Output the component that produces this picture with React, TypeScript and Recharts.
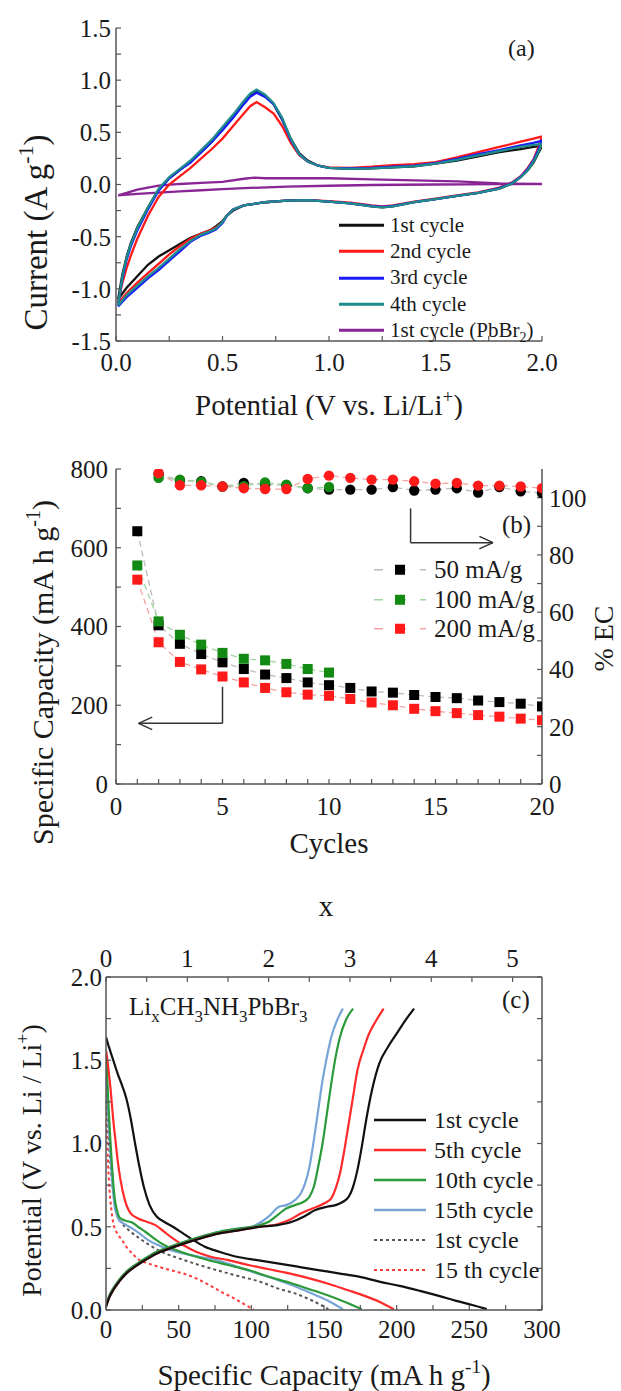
import React from 'react';
import { LineChart, Line, XAxis, YAxis, ReferenceLine, Legend } from 'recharts';

const FONT = '"Liberation Serif", "Times New Roman", serif';
const AXIS = '#555555';
const INK = '#1a1a1a';

// ---------- (a) cyclic voltammetry ----------
const cvUpV = [0.01, 0.03, 0.05, 0.07, 0.1, 0.15, 0.2, 0.25, 0.3, 0.35, 0.4, 0.45, 0.5, 0.55, 0.6, 0.63, 0.66, 0.7, 0.74, 0.78, 0.82, 0.86, 0.9, 0.95, 1.0, 1.1, 1.2, 1.3, 1.4, 1.5, 1.6, 1.7, 1.8, 1.9, 1.96, 2.0];
const cvDownV = [2.0, 1.98, 1.96, 1.93, 1.9, 1.86, 1.8, 1.7, 1.6, 1.5, 1.4, 1.3, 1.25, 1.2, 1.1, 1.0, 0.9, 0.8, 0.7, 0.6, 0.55, 0.52, 0.5, 0.47, 0.44, 0.4, 0.35, 0.3, 0.25, 0.2, 0.15, 0.1, 0.05, 0.01];

const cv1Up = [-1.1, -0.86, -0.69, -0.56, -0.41, -0.22, -0.05, 0.06, 0.14, 0.22, 0.31, 0.41, 0.53, 0.65, 0.78, 0.85, 0.9, 0.85, 0.77, 0.62, 0.44, 0.3, 0.23, 0.18, 0.16, 0.15, 0.155, 0.165, 0.175, 0.2, 0.23, 0.27, 0.31, 0.34, 0.36, 0.37];
const cv1Down = [0.37, 0.29, 0.21, 0.13, 0.07, 0.01, -0.04, -0.08, -0.11, -0.14, -0.17, -0.21, -0.22, -0.21, -0.18, -0.165, -0.15, -0.155, -0.17, -0.2, -0.25, -0.3, -0.35, -0.4, -0.44, -0.47, -0.51, -0.57, -0.63, -0.69, -0.77, -0.88, -0.99, -1.1];
const cv2Up = [-1.13, -0.94, -0.8, -0.68, -0.52, -0.3, -0.12, 0.0, 0.08, 0.16, 0.25, 0.34, 0.44, 0.56, 0.68, 0.75, 0.79, 0.74, 0.68, 0.56, 0.4, 0.28, 0.22, 0.18, 0.165, 0.16, 0.17, 0.185, 0.195, 0.215, 0.26, 0.31, 0.36, 0.41, 0.44, 0.46];
const cv2Down = [0.46, 0.34, 0.24, 0.15, 0.08, 0.02, -0.03, -0.075, -0.105, -0.135, -0.165, -0.2, -0.21, -0.2, -0.175, -0.16, -0.15, -0.155, -0.17, -0.2, -0.24, -0.3, -0.36, -0.41, -0.44, -0.47, -0.52, -0.59, -0.67, -0.76, -0.85, -0.94, -1.04, -1.14];
const cv3Up = [-1.16, -0.9, -0.72, -0.59, -0.44, -0.24, -0.06, 0.06, 0.14, 0.21, 0.31, 0.41, 0.52, 0.64, 0.77, 0.84, 0.88, 0.84, 0.77, 0.63, 0.43, 0.29, 0.22, 0.18, 0.16, 0.155, 0.16, 0.17, 0.18, 0.205, 0.245, 0.29, 0.33, 0.375, 0.4, 0.42];
const cv3Down = [0.42, 0.32, 0.23, 0.14, 0.075, 0.015, -0.035, -0.08, -0.11, -0.14, -0.17, -0.205, -0.215, -0.205, -0.18, -0.165, -0.15, -0.155, -0.17, -0.2, -0.24, -0.3, -0.37, -0.43, -0.46, -0.49, -0.55, -0.64, -0.73, -0.82, -0.9, -0.99, -1.08, -1.17];
const cv4Up = [-1.15, -0.88, -0.7, -0.57, -0.42, -0.22, -0.04, 0.07, 0.15, 0.23, 0.33, 0.43, 0.55, 0.67, 0.8, 0.87, 0.91, 0.86, 0.78, 0.64, 0.44, 0.29, 0.22, 0.18, 0.16, 0.15, 0.155, 0.165, 0.175, 0.2, 0.235, 0.28, 0.32, 0.36, 0.38, 0.39];
const cv4Down = [0.39, 0.3, 0.22, 0.13, 0.07, 0.01, -0.04, -0.08, -0.11, -0.14, -0.17, -0.21, -0.22, -0.21, -0.18, -0.165, -0.15, -0.155, -0.17, -0.2, -0.24, -0.3, -0.36, -0.42, -0.45, -0.48, -0.54, -0.62, -0.71, -0.8, -0.88, -0.97, -1.06, -1.16];

const pbUpV = [0.01, 0.05, 0.1, 0.2, 0.3, 0.4, 0.5, 0.6, 0.65, 0.7, 0.8, 1.0, 1.2, 1.4, 1.6, 1.8, 2.0];
const pbUpI = [-0.105, -0.08, -0.05, -0.01, 0.005, 0.015, 0.025, 0.055, 0.065, 0.06, 0.06, 0.06, 0.05, 0.04, 0.03, 0.01, 0.005];
const pbDownV = [2.0, 1.8, 1.5, 1.2, 1.0, 0.8, 0.6, 0.5, 0.4, 0.3, 0.2, 0.1, 0.01];
const pbDownI = [0.005, 0.003, 0.0, -0.005, -0.012, -0.02, -0.035, -0.045, -0.055, -0.065, -0.078, -0.09, -0.105];

const potTicksA = [0, 0.25, 0.5, 0.75, 1, 1.25, 1.5, 1.75, 2];
const curTicksA = [-1.5, -1.25, -1, -0.75, -0.5, -0.25, 0, 0.25, 0.5, 0.75, 1, 1.25, 1.5];

// ---------- (b) cycling ----------
const cycles = [1, 2, 3, 4, 5, 6, 7, 8, 9, 10, 11, 12, 13, 14, 15, 16, 17, 18, 19, 20];
const cap50 = [642, 403, 356, 330, 309, 292, 278, 269, 258, 251, 244, 235, 232, 226, 221, 218, 212, 208, 204, 197];
const cap100 = [555, 413, 379, 354, 333, 318, 314, 305, 292, 283];
const cap200 = [519, 360, 310, 291, 273, 258, 244, 233, 227, 224, 216, 207, 200, 191, 185, 180, 175, 171, 166, 162];
// coulombic efficiency, from cycle 2 on
const ec50 = [108.2, 106.0, 105.7, 103.9, 105.1, 104.6, 104.3, 103.3, 102.8, 102.8, 102.8, 103.7, 102.5, 102.8, 103.3, 101.8, 103.7, 102.2, 101.6];
const ec100 = [106.9, 106.3, 105.5, 103.9, 104.0, 105.3, 104.5, 103.3, 103.7];
const ec200 = [108.6, 104.3, 104.3, 103.9, 103.3, 103.0, 103.0, 106.5, 107.7, 106.9, 106.3, 106.3, 105.7, 104.9, 105.1, 104.2, 104.2, 103.9, 103.3];

const cycleTicks = [0, 1, 2, 3, 4, 5, 6, 7, 8, 9, 10, 11, 12, 13, 14, 15, 16, 17, 18, 19, 20];
const capTicksB = [0, 100, 200, 300, 400, 500, 600, 700, 800];
const ecTicks = [0, 10, 20, 30, 40, 50, 60, 70, 80, 90, 100];

// arrows pointing to the axes (data coordinates: cycle, capacity)
const arrowSegs = [
  [{ x: 5, y: 247 }, { x: 5, y: 154 }],
  [{ x: 5, y: 154 }, { x: 1.06, y: 154 }],
  [{ x: 1.06, y: 154 }, { x: 1.7, y: 170 }],
  [{ x: 1.06, y: 154 }, { x: 1.7, y: 138 }],
  [{ x: 13.83, y: 700 }, { x: 13.83, y: 613 }],
  [{ x: 13.83, y: 613 }, { x: 17.7, y: 613 }],
  [{ x: 17.7, y: 613 }, { x: 17.06, y: 629 }],
  [{ x: 17.7, y: 613 }, { x: 17.06, y: 597 }],
];

// ---------- (c) charge / discharge ----------
const dis1Cap = [0, 2, 5, 8, 11, 14, 17, 20, 23, 26, 30, 35, 40, 46, 53, 60, 68, 78, 90, 104, 118, 132, 146, 160, 174, 188, 202, 216, 229, 241, 252, 262];
const dis1V = [1.64, 1.58, 1.5, 1.42, 1.35, 1.27, 1.15, 1.0, 0.86, 0.74, 0.63, 0.56, 0.53, 0.5, 0.46, 0.42, 0.38, 0.35, 0.32, 0.3, 0.28, 0.26, 0.24, 0.22, 0.2, 0.17, 0.145, 0.115, 0.085, 0.055, 0.03, 0.005];
const chg1Cap = [0, 2, 5, 9, 14, 20, 27, 35, 44, 54, 65, 78, 92, 106, 118, 128, 136, 144, 152, 158, 163, 167, 170, 173, 176, 179, 183, 188, 194, 200, 206, 212];
const chg1V = [0.02, 0.07, 0.12, 0.17, 0.22, 0.26, 0.3, 0.34, 0.37, 0.4, 0.43, 0.46, 0.48, 0.5, 0.51, 0.53, 0.56, 0.6, 0.62, 0.63, 0.65, 0.68, 0.74, 0.84, 0.98, 1.14, 1.32, 1.48, 1.58, 1.66, 1.74, 1.81];

const dis5Cap = [0, 1, 2, 3, 4, 5, 6.5, 8, 10, 13, 17, 22, 28, 34, 40, 46, 53, 62, 72, 84, 98, 112, 126, 140, 154, 166, 178, 188, 198];
const dis5V = [1.56, 1.5, 1.42, 1.34, 1.24, 1.14, 1.02, 0.9, 0.78, 0.66, 0.58, 0.55, 0.53, 0.51, 0.47, 0.43, 0.39, 0.35, 0.32, 0.3, 0.27, 0.245, 0.22, 0.19, 0.155, 0.12, 0.085, 0.05, 0.005];
const chg5Cap = [0, 2, 5, 9, 14, 20, 27, 35, 44, 54, 65, 78, 92, 106, 118, 126, 134, 142, 150, 155, 158, 161, 164, 167, 170, 173, 177, 181, 186, 191];
const chg5V = [0.02, 0.07, 0.12, 0.17, 0.22, 0.26, 0.3, 0.34, 0.37, 0.4, 0.43, 0.46, 0.48, 0.5, 0.515, 0.54, 0.58, 0.61, 0.64, 0.67, 0.73, 0.82, 0.96, 1.12, 1.28, 1.44, 1.56, 1.66, 1.74, 1.81];

const dis10Cap = [0, 0.5, 1, 1.5, 2, 3, 4, 5, 6, 7.5, 9, 11, 14, 18, 22, 27, 33, 40, 48, 58, 70, 84, 98, 112, 126, 140, 152, 164, 176];
const dis10V = [1.54, 1.45, 1.36, 1.27, 1.18, 1.02, 0.88, 0.76, 0.67, 0.6, 0.56, 0.545, 0.535, 0.525, 0.5, 0.47, 0.43, 0.39, 0.36, 0.33, 0.3, 0.27, 0.24, 0.2, 0.165, 0.125, 0.09, 0.05, 0.005];
const chg10Cap = [0, 2, 5, 9, 14, 20, 27, 35, 44, 54, 65, 78, 92, 106, 112, 118, 124, 130, 136, 140, 143, 146, 149, 152, 155, 158, 161, 165, 170];
const chg10V = [0.02, 0.08, 0.13, 0.18, 0.23, 0.27, 0.31, 0.35, 0.38, 0.41, 0.44, 0.47, 0.49, 0.51, 0.53, 0.57, 0.61, 0.63, 0.65, 0.68, 0.74, 0.86, 1.0, 1.18, 1.36, 1.52, 1.64, 1.74, 1.81];

const dis15Cap = [0, 0.5, 1, 1.5, 2, 3, 4, 5, 6, 7.5, 9, 11, 14, 18, 23, 29, 36, 44, 53, 64, 76, 90, 104, 118, 132, 144, 154, 163];
const dis15V = [1.5, 1.4, 1.3, 1.2, 1.1, 0.94, 0.8, 0.7, 0.62, 0.57, 0.54, 0.525, 0.51, 0.49, 0.46, 0.42, 0.39, 0.36, 0.34, 0.32, 0.3, 0.26, 0.22, 0.18, 0.135, 0.09, 0.05, 0.005];
const chg15Cap = [0, 2, 5, 9, 14, 20, 27, 35, 44, 54, 65, 78, 92, 100, 107, 113, 119, 124, 130, 134, 137, 140, 143, 146, 149, 152, 155, 159, 163];
const chg15V = [0.02, 0.08, 0.13, 0.18, 0.23, 0.27, 0.31, 0.35, 0.38, 0.41, 0.44, 0.47, 0.49, 0.5, 0.53, 0.57, 0.62, 0.63, 0.66, 0.7, 0.76, 0.86, 1.02, 1.2, 1.38, 1.52, 1.64, 1.74, 1.81];

// dotted: reference electrode discharges
const ref1Cap = [0, 0.5, 1, 1.5, 2, 3, 4, 5, 6.5, 8, 10, 13, 17, 23, 30, 38, 47, 57, 68, 80, 93, 106, 118, 130, 141, 148, 153];
const ref1V = [1.4, 1.3, 1.2, 1.1, 1.0, 0.88, 0.78, 0.7, 0.62, 0.56, 0.53, 0.5, 0.47, 0.43, 0.39, 0.35, 0.32, 0.29, 0.26, 0.23, 0.2, 0.17, 0.13, 0.1, 0.06, 0.03, 0.005];
const ref15Cap = [0, 0.5, 1, 1.5, 2, 3, 4, 5, 6.5, 8.5, 11, 14, 18, 23, 29, 36, 44, 53, 62, 71, 79, 86, 92, 97, 101.5];
const ref15V = [1.3, 1.1, 0.96, 0.86, 0.78, 0.66, 0.58, 0.52, 0.48, 0.45, 0.42, 0.38, 0.34, 0.3, 0.28, 0.26, 0.24, 0.22, 0.19, 0.15, 0.11, 0.08, 0.05, 0.025, 0.005];

const capTicksC = [0, 25, 50, 75, 100, 125, 150, 175, 200, 225, 250, 275, 300];
const potTicksC = [0, 0.25, 0.5, 0.75, 1, 1.25, 1.5, 1.75, 2];
const liTicks = [0, 0.5, 1, 1.5, 2, 2.5, 3, 3.5, 4, 4.5, 5];
const mAhPerLi = 26801 / 479; // one Li per CH3NH3PbBr3 formula unit

// ---------- helpers ----------
const isMult = (v: number, step: number) => Math.abs(v / step - Math.round(v / step)) < 1e-6;
const fmt1 = (step: number) => (v: number) => (isMult(v, step) ? v.toFixed(1) : '');
const fmt0 = (step: number) => (v: number) => (isMult(v, step) ? String(v) : '');
const blank = () => '';

const loop = (upV: number[], upI: number[], downV: number[], downI: number[]) => [
  ...upV.map((v, k) => ({ v, cur: upI[k] })),
  ...downV.map((v, k) => ({ v, cur: downI[k] })),
];
const curve = (cap: number[], volt: number[]) => cap.map((c, k) => ({ c, p: volt[k] }));

// chart-level rows so that the frame axes (top / right) get a domain and ticks
const frameA = potTicksA.map((v) => ({ v }));
const frameC = capTicksC.map((c) => ({ c }));

type Seg = { t: string; sup?: boolean; sub?: boolean };

const Rich = ({ segs, size }: { segs: Seg[]; size: number }) => {
  let shift = 0;
  return (
    <>
      {segs.map((s, k) => {
        const target = s.sup ? -size * 0.42 : s.sub ? size * 0.26 : 0;
        const dy = target - shift;
        shift = target;
        return (
          <tspan key={k} dy={dy} fontSize={s.sup || s.sub ? Math.round(size * 0.66) : size}>
            {s.t}
          </tspan>
        );
      })}
    </>
  );
};

const AxisTitle = (props: any) => {
  const { viewBox, segs, size = 29, vertical, ox = 0, oy = 0 } = props;
  if (!viewBox) return null;
  const { x, y, width, height } = viewBox;
  if (vertical) {
    const tx = x + ox;
    const ty = y + height / 2 + oy;
    return (
      <text x={tx} y={ty} transform={`rotate(-90 ${tx} ${ty})`} textAnchor="middle" fontFamily={FONT} fontSize={size} fill={INK}>
        <Rich segs={segs} size={size} />
      </text>
    );
  }
  const tx = x + width / 2 + ox;
  const ty = y + oy;
  return (
    <text x={tx} y={ty} textAnchor="middle" fontFamily={FONT} fontSize={size} fill={INK}>
      <Rich segs={segs} size={size} />
    </text>
  );
};

type LegendItem = { label: React.ReactNode; color: string; width: number; dash?: string; marker?: string };

const LegendRows = ({ items, rowH, size, lineW, gap }: { items: LegendItem[]; rowH: number; size: number; lineW: number; gap: number }) => (
  <div style={{ fontFamily: FONT, fontSize: size, color: INK, lineHeight: 1 }}>
    {items.map((it, k) => (
      <div key={k} style={{ display: 'flex', alignItems: 'center', height: rowH, whiteSpace: 'nowrap' }}>
        <svg width={lineW} height={rowH} style={{ marginRight: gap, flex: 'none' }}>
          <line x1={0} x2={lineW} y1={rowH / 2} y2={rowH / 2} stroke={it.color} strokeWidth={it.width} strokeDasharray={it.dash} />
          {it.marker && <rect x={lineW / 2 - 5} y={rowH / 2 - 5} width={10} height={10} fill={it.marker} />}
        </svg>
        <span>{it.label}</span>
      </div>
    ))}
  </div>
);

const squareDot = (fill: string) => (p: any) => {
  if (p.cx == null || p.cy == null || p.value == null) return <g key={`s${p.index}`} />;
  return <rect key={`s${p.index}`} x={p.cx - 5} y={p.cy - 5} width={10} height={10} fill={fill} />;
};
const circleDot = (fill: string) => (p: any) => {
  if (p.cx == null || p.cy == null || p.value == null) return <g key={`c${p.index}`} />;
  return <circle key={`c${p.index}`} cx={p.cx} cy={p.cy} r={5.2} fill={fill} />;
};

const tickStyle = { fill: INK, fontSize: 25, fontFamily: FONT };
const axisLine = { stroke: AXIS, strokeWidth: 1.5 };
const tickLine = { stroke: AXIS, strokeWidth: 1.2 };

// ---------- series configs ----------
const cvSeries = [
  { name: '1st cycle (PbBr2)', color: '#8a2596', data: loop(pbUpV, pbUpI, pbDownV, pbDownI) },
  { name: '1st cycle', color: '#111111', data: loop(cvUpV, cv1Up, cvDownV, cv1Down) },
  { name: '2nd cycle', color: '#ff1a1a', data: loop(cvUpV, cv2Up, cvDownV, cv2Down) },
  { name: '3rd cycle', color: '#1a1aff', data: loop(cvUpV, cv3Up, cvDownV, cv3Down) },
  { name: '4th cycle', color: '#1e8c8c', data: loop(cvUpV, cv4Up, cvDownV, cv4Down) },
];
const cvLegend: LegendItem[] = [
  { label: '1st cycle', color: '#111111', width: 3 },
  { label: '2nd cycle', color: '#ff1a1a', width: 3 },
  { label: '3rd cycle', color: '#1a1aff', width: 3 },
  { label: '4th cycle', color: '#1e8c8c', width: 3 },
  {
    label: (
      <>
        1st cycle (PbBr<span style={{ fontSize: 14, position: 'relative', top: 5 }}>2</span>)
      </>
    ),
    color: '#8a2596',
    width: 3,
  },
];

const rowsB = cycles.map((c, k) => ({
  c,
  cap50: cap50[k] ?? null,
  cap100: cap100[k] ?? null,
  cap200: cap200[k] ?? null,
  ec50: k === 0 ? null : ec50[k - 1] ?? null,
  ec100: k === 0 ? null : ec100[k - 1] ?? null,
  ec200: k === 0 ? null : ec200[k - 1] ?? null,
}));
const rateLegend: LegendItem[] = [
  { label: '50 mA/g', color: '#bdbdbd', width: 1.5, dash: '9 14', marker: '#000000' },
  { label: '100 mA/g', color: '#9ed69e', width: 1.5, dash: '9 14', marker: '#138a13' },
  { label: '200 mA/g', color: '#f5a3a3', width: 1.5, dash: '9 14', marker: '#ff1a1a' },
];

const gcSeries = [
  { key: 'r15', color: '#ff3b3b', dash: '3 3', dis: curve(ref15Cap, ref15V) },
  { key: 'r1', color: '#555555', dash: '3 3', dis: curve(ref1Cap, ref1V) },
  { key: 'c15', color: '#78a5d6', dis: curve(dis15Cap, dis15V), chg: curve(chg15Cap, chg15V) },
  { key: 'c10', color: '#2a9a3a', dis: curve(dis10Cap, dis10V), chg: curve(chg10Cap, chg10V) },
  { key: 'c5', color: '#ff2a2a', dis: curve(dis5Cap, dis5V), chg: curve(chg5Cap, chg5V) },
  { key: 'c1', color: '#111111', dis: curve(dis1Cap, dis1V), chg: curve(chg1Cap, chg1V) },
];
const gcLegend: LegendItem[] = [
  { label: '1st cycle', color: '#111111', width: 2.5 },
  { label: '5th cycle', color: '#ff2a2a', width: 2.5 },
  { label: '10th cycle', color: '#2a9a3a', width: 2.5 },
  { label: '15th cycle', color: '#78a5d6', width: 2.5 },
  { label: '1st cycle', color: '#555555', width: 2, dash: '3 3' },
  { label: '15 th cycle', color: '#ff3b3b', width: 2, dash: '3 3' },
];

const capTitle: Seg[] = [{ t: 'Specific Capacity (mA h g' }, { t: '-1', sup: true }, { t: ')' }];

const App = () => (
  <div style={{ position: 'absolute', left: 0, top: 0, width: 621, height: 1391, background: '#ffffff', fontFamily: FONT, overflow: 'hidden' }}>
    <style>{`.recharts-wrapper text { font-family: "Liberation Serif", "Times New Roman", serif; }`}</style>
    {/* (a) */}
    <div style={{ position: 'absolute', left: 0, top: 0 }}>
      <LineChart width={621} height={420} data={frameA} margin={{ top: 28, right: 79, bottom: 0, left: 0 }}>
        <XAxis
          dataKey="v" type="number" domain={[0, 2]} allowDataOverflow ticks={potTicksA} interval={0}
          tickFormatter={fmt1(0.5)} tickSize={-5} tickMargin={17} height={79}
          tick={tickStyle} axisLine={axisLine} tickLine={tickLine}
          label={<AxisTitle segs={[{ t: 'Potential (V vs. Li/Li' }, { t: '+', sup: true }, { t: ')' }]} oy={74} />}
        />
        <XAxis xAxisId="top" dataKey="v" orientation="top" type="number" domain={[0, 2]} allowDataOverflow ticks={potTicksA} interval={0}
          tickFormatter={blank} tickSize={-5} height={0} tick={tickStyle} axisLine={axisLine} tickLine={tickLine} />
        <YAxis
          type="number" domain={[-1.5, 1.5]} allowDataOverflow ticks={curTicksA} interval={0}
          tickFormatter={fmt1(0.5)} tickSize={-5} tickMargin={10} width={116}
          tick={tickStyle} axisLine={axisLine} tickLine={tickLine}
          label={<AxisTitle vertical size={33} segs={[{ t: 'Current (A g' }, { t: '-1', sup: true }, { t: ')' }]} ox={47} oy={48} />}
        />
        <YAxis yAxisId="right" orientation="right" type="number" domain={[-1.5, 1.5]} allowDataOverflow ticks={curTicksA} interval={0}
          tickFormatter={blank} tickSize={-5} width={0} tick={tickStyle} axisLine={axisLine} tickLine={tickLine} />
        {cvSeries.map((s) => (
          <Line key={s.name} data={s.data} dataKey="cur" name={s.name} type="linear" stroke={s.color}
            strokeWidth={2.3} dot={false} activeDot={false} isAnimationActive={false} />
        ))}
        <Legend layout="vertical" align="center" verticalAlign="middle"
          wrapperStyle={{ left: 339, top: 212, width: 'auto' }}
          content={() => <LegendRows items={cvLegend} rowH={26.3} size={21} lineW={45} gap={6} />} />
      </LineChart>
    </div>

    {/* (b) */}
    <div style={{ position: 'absolute', left: 0, top: 420 }}>
      <LineChart width={621} height={460} data={rowsB} margin={{ top: 49, right: 0, bottom: 0, left: 0 }}>
        <XAxis
          dataKey="c" type="number" domain={[0, 20]} allowDataOverflow ticks={cycleTicks} interval={0}
          tickFormatter={fmt0(5)} tickSize={-5} tickMargin={18} height={96}
          tick={tickStyle} axisLine={axisLine} tickLine={tickLine}
          label={<AxisTitle segs={[{ t: 'Cycles' }]} oy={69} />}
        />
        <XAxis xAxisId="top" dataKey="c" orientation="top" type="number" domain={[0, 20]} allowDataOverflow ticks={cycleTicks} interval={0}
          tickFormatter={blank} tickSize={-5} height={0} tick={tickStyle} axisLine={axisLine} tickLine={tickLine} />
        <YAxis
          yAxisId="cap" type="number" domain={[0, 800]} allowDataOverflow ticks={capTicksB} interval={0}
          tickFormatter={fmt0(200)} tickSize={-5} tickMargin={13} width={116}
          tick={tickStyle} axisLine={axisLine} tickLine={tickLine}
          label={<AxisTitle vertical size={30} segs={capTitle} ox={53} oy={46} />}
        />
        <YAxis
          yAxisId="ec" orientation="right" type="number" domain={[0, 110]} allowDataOverflow ticks={ecTicks} interval={0}
          tickFormatter={fmt0(20)} tickSize={-5} tickMargin={12} width={79}
          tick={tickStyle} axisLine={axisLine} tickLine={tickLine}
          label={<AxisTitle vertical size={28} segs={[{ t: '% EC' }]} ox={71} oy={12} />}
        />
        {arrowSegs.map((seg, k) => (
          <ReferenceLine key={`ar${k}`} yAxisId="cap" segment={seg} stroke="#333333" strokeWidth={1.5} />
        ))}
        <Line yAxisId="cap" dataKey="cap50" name="50 mA/g" type="linear" stroke="#bdbdbd" strokeWidth={1.3} strokeDasharray="6 4"
          dot={squareDot('#000000')} activeDot={false} isAnimationActive={false} />
        <Line yAxisId="cap" dataKey="cap100" name="100 mA/g" type="linear" stroke="#9ed69e" strokeWidth={1.3} strokeDasharray="6 4"
          dot={squareDot('#138a13')} activeDot={false} isAnimationActive={false} />
        <Line yAxisId="cap" dataKey="cap200" name="200 mA/g" type="linear" stroke="#f5a3a3" strokeWidth={1.3} strokeDasharray="6 4"
          dot={squareDot('#ff1a1a')} activeDot={false} isAnimationActive={false} />
        <Line yAxisId="ec" dataKey="ec50" legendType="none" type="linear" stroke="#bdbdbd" strokeWidth={1.3} strokeDasharray="6 4"
          dot={circleDot('#000000')} activeDot={false} isAnimationActive={false} />
        <Line yAxisId="ec" dataKey="ec100" legendType="none" type="linear" stroke="#9ed69e" strokeWidth={1.3} strokeDasharray="6 4"
          dot={circleDot('#138a13')} activeDot={false} isAnimationActive={false} />
        <Line yAxisId="ec" dataKey="ec200" legendType="none" type="linear" stroke="#f5a3a3" strokeWidth={1.3} strokeDasharray="6 4"
          dot={circleDot('#ff1a1a')} activeDot={false} isAnimationActive={false} />
        <Legend layout="vertical" align="center" verticalAlign="middle"
          wrapperStyle={{ left: 374, top: 135, width: 'auto' }}
          content={() => <LegendRows items={rateLegend} rowH={29.5} size={25} lineW={52} gap={8} />} />
      </LineChart>
    </div>

    {/* (c) */}
    <div style={{ position: 'absolute', left: 0, top: 880 }}>
      <LineChart width={621} height={511} data={frameC} margin={{ top: 0, right: 0, bottom: 0, left: 0 }}>
        <XAxis
          dataKey="c" type="number" domain={[0, 300]} allowDataOverflow ticks={capTicksC} interval={0}
          tickFormatter={fmt0(50)} tickSize={-5} tickMargin={15} height={81}
          tick={tickStyle} axisLine={axisLine} tickLine={tickLine}
          label={<AxisTitle segs={capTitle} oy={75} />}
        />
        <XAxis
          xAxisId="li" dataKey="c" orientation="top" type="number" domain={[0, 300 / mAhPerLi]} allowDataOverflow ticks={liTicks} interval={0}
          tickFormatter={fmt0(1)} tickSize={-5} tickMargin={15} height={97}
          tick={tickStyle} axisLine={axisLine} tickLine={tickLine}
          label={<AxisTitle segs={[{ t: 'x' }]} oy={36} ox={2} />}
        />
        <YAxis
          type="number" domain={[0, 2]} allowDataOverflow ticks={potTicksC} interval={0}
          tickFormatter={fmt1(0.5)} tickSize={-5} tickMargin={9} width={106}
          tick={tickStyle} axisLine={axisLine} tickLine={tickLine}
          label={<AxisTitle vertical size={28} segs={[{ t: 'Potential (V vs. Li / Li' }, { t: '+', sup: true }, { t: ')' }]} ox={41} oy={17} />}
        />
        <YAxis yAxisId="right" orientation="right" type="number" domain={[0, 2]} allowDataOverflow ticks={potTicksC} interval={0}
          tickFormatter={blank} tickSize={-5} width={79} tick={tickStyle} axisLine={axisLine} tickLine={tickLine} />
        {gcSeries.map((s) => (
          <Line key={`${s.key}d`} data={s.dis} dataKey="p" name={s.key} legendType="none" type="monotone" stroke={s.color}
            strokeWidth={s.dash ? 2 : 2.2} strokeDasharray={s.dash} dot={false} activeDot={false} isAnimationActive={false} />
        ))}
        {gcSeries.filter((s) => s.chg).map((s) => (
          <Line key={`${s.key}c`} data={s.chg} dataKey="p" name={`${s.key} charge`} legendType="none" type="monotone" stroke={s.color}
            strokeWidth={2.2} dot={false} activeDot={false} isAnimationActive={false} />
        ))}
        <Legend layout="vertical" align="center" verticalAlign="middle"
          wrapperStyle={{ left: 374, top: 225, width: 'auto' }}
          content={() => <LegendRows items={gcLegend} rowH={30} size={24} lineW={52} gap={8} />} />
      </LineChart>
    </div>

    {/* panel tags and composition */}
    <svg width={621} height={1391} style={{ position: 'absolute', left: 0, top: 0, pointerEvents: 'none' }}>
      <text x={508} y={56} fontFamily={FONT} fontSize={24} fill={INK}>(a)</text>
      <text x={502} y={533} fontFamily={FONT} fontSize={25} fill={INK}>(b)</text>
      <text x={502} y={1008} fontFamily={FONT} fontSize={25} fill={INK}>(c)</text>
      <text x={129} y={1015} fontFamily={FONT} fill={INK}>
        <Rich
          size={25}
          segs={[
            { t: 'Li' }, { t: 'x', sub: true }, { t: 'CH' }, { t: '3', sub: true },
            { t: 'NH' }, { t: '3', sub: true }, { t: 'PbBr' }, { t: '3', sub: true },
          ]}
        />
      </text>
    </svg>
  </div>
);

export default App;
